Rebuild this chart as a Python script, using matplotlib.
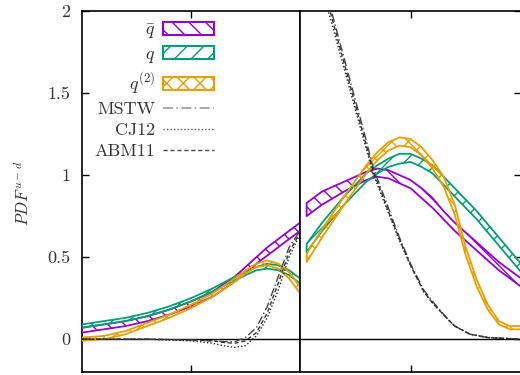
import numpy as np
import matplotlib
matplotlib.use('Agg')
import matplotlib.pyplot as plt
from matplotlib.patches import Patch
from matplotlib.lines import Line2D

plt.rcParams['mathtext.fontset'] = 'cm'
plt.rcParams['font.family'] = ['cmr10', 'DejaVu Serif']
plt.rcParams['axes.formatter.use_mathtext'] = True
plt.rcParams['hatch.linewidth'] = 1.0

# colours (gnuplot style)
c_qbar = '#9400D3'
c_q = '#009E73'
c_q2 = '#E69F00'

# ---- left panel data ----
xl = [0.0, 0.1, 0.2, 0.3, 0.4, 0.5, 0.6, 0.7, 0.75, 0.8, 0.85, 0.9, 0.95, 1.0]
qbar_l_lo = [0.04, 0.06, 0.08, 0.11, 0.15, 0.20, 0.26, 0.35, 0.40, 0.46, 0.51, 0.56, 0.61, 0.66]
qbar_l_hi = [0.07, 0.09, 0.11, 0.14, 0.18, 0.23, 0.29, 0.38, 0.44, 0.50, 0.56, 0.61, 0.66, 0.71]
q_l_lo = [0.07, 0.09, 0.11, 0.14, 0.18, 0.23, 0.29, 0.36, 0.39, 0.42, 0.43, 0.42, 0.39, 0.34]
q_l_hi = [0.09, 0.11, 0.13, 0.16, 0.20, 0.25, 0.31, 0.38, 0.41, 0.44, 0.46, 0.45, 0.42, 0.37]
q2_l_lo = [-0.01, 0.00, 0.03, 0.08, 0.13, 0.19, 0.26, 0.35, 0.40, 0.44, 0.45, 0.43, 0.37, 0.28]
q2_l_hi = [0.01, 0.02, 0.05, 0.10, 0.15, 0.21, 0.28, 0.37, 0.42, 0.46, 0.48, 0.46, 0.41, 0.32]

xl_b = [0.0, 0.3, 0.5, 0.6, 0.65, 0.7, 0.75, 0.8, 0.85, 0.9, 0.95, 1.0]
mstw_l = [0.0, 0.0, -0.005, -0.01, -0.015, -0.015, 0.01, 0.07, 0.20, 0.38, 0.56, 0.66]
cj12_l = [0.0, 0.0, -0.01, -0.025, -0.04, -0.05, -0.04, 0.02, 0.13, 0.30, 0.50, 0.64]
abm11_l = [0.0, 0.0, -0.005, -0.01, -0.02, -0.025, -0.01, 0.04, 0.16, 0.34, 0.53, 0.65]

# ---- right panel data ----
xr = [0.03, 0.1, 0.2, 0.3, 0.35, 0.4, 0.45, 0.5, 0.55, 0.6, 0.65, 0.7, 0.75, 0.8, 0.85, 0.9, 0.95, 1.0]
qbar_r_lo = [0.75, 0.82, 0.90, 0.97, 0.99, 0.98, 0.95, 0.92, 0.86, 0.80, 0.73, 0.66, 0.60, 0.54, 0.48, 0.42, 0.37, 0.32]
qbar_r_hi = [0.83, 0.90, 0.96, 1.02, 1.04, 1.03, 1.00, 0.97, 0.92, 0.86, 0.78, 0.71, 0.65, 0.59, 0.53, 0.47, 0.42, 0.37]
q_r_lo = [0.53, 0.66, 0.82, 0.96, 1.01, 1.05, 1.07, 1.08, 1.05, 1.01, 0.94, 0.87, 0.80, 0.73, 0.65, 0.57, 0.49, 0.41]
q_r_hi = [0.58, 0.71, 0.87, 1.01, 1.06, 1.10, 1.13, 1.13, 1.10, 1.06, 0.99, 0.92, 0.85, 0.78, 0.70, 0.62, 0.54, 0.46]
q2_r_lo = [0.47, 0.62, 0.82, 1.01, 1.09, 1.15, 1.18, 1.17, 1.12, 1.04, 0.93, 0.76, 0.51, 0.32, 0.18, 0.09, 0.06, 0.06]
q2_r_hi = [0.52, 0.67, 0.87, 1.06, 1.14, 1.20, 1.23, 1.22, 1.17, 1.09, 0.99, 0.82, 0.56, 0.36, 0.21, 0.11, 0.08, 0.08]

xr_b = [0.0, 0.1, 0.136, 0.2, 0.25, 0.3, 0.33, 0.4, 0.45, 0.5, 0.56, 0.6, 0.67, 0.7, 0.77, 0.85, 1.0]
mstw_r = [2.75, 2.22, 2.03, 1.71, 1.46, 1.21, 1.05, 0.80, 0.62, 0.46, 0.30, 0.23, 0.12, 0.08, 0.03, 0.01, 0.0]
cj12_r = [2.65, 2.14, 1.96, 1.65, 1.40, 1.16, 1.01, 0.77, 0.60, 0.45, 0.29, 0.22, 0.12, 0.08, 0.03, 0.01, 0.0]
abm11_r = [2.70, 2.18, 2.00, 1.68, 1.43, 1.18, 1.03, 0.78, 0.61, 0.45, 0.29, 0.22, 0.12, 0.08, 0.03, 0.01, 0.0]

W, H = 520, 375
fig = plt.figure(figsize=(W / 100, H / 100), dpi=100)
bottom = (H - 372) / H
height = (372 - 11) / H
axl = fig.add_axes([82 / W, bottom, 218 / W, height])
axr = fig.add_axes([300 / W, bottom, 221 / W, height], sharey=axl)

h_qbar, h_q, h_q2 = '\\\\', '//', 'xx'
bands_l = [(qbar_l_lo, qbar_l_hi, c_qbar, h_qbar), (q_l_lo, q_l_hi, c_q, h_q), (q2_l_lo, q2_l_hi, c_q2, h_q2)]
bands_r = [(qbar_r_lo, qbar_r_hi, c_qbar, h_qbar), (q_r_lo, q_r_hi, c_q, h_q), (q2_r_lo, q2_r_hi, c_q2, h_q2)]

for ax, xx, bands in [(axl, xl, bands_l), (axr, xr, bands_r)]:
    for lo, hi, col, hat in bands:
        ax.fill_between(xx, lo, hi, facecolor='none', edgecolor=col, hatch=hat, linewidth=1.3, zorder=3)

ls_mstw = (0, (6, 2, 1, 2))
ls_cj12 = (0, (1, 1.5))
ls_abm11 = (0, (3, 2))
for ax, xx, m, c, a in [(axl, xl_b, mstw_l, cj12_l, abm11_l), (axr, xr_b, mstw_r, cj12_r, abm11_r)]:
    ax.plot(xx, m, color='#444444', lw=1.0, ls=ls_mstw, zorder=4)
    ax.plot(xx, c, color='#222222', lw=1.0, ls=ls_cj12, zorder=4)
    ax.plot(xx, a, color='#333333', lw=1.0, ls=ls_abm11, zorder=4)
    ax.axhline(0, color='black', lw=1.0, zorder=2)
    ax.set_xlim(0, 1)
    ax.set_xticks([0.5])
    ax.tick_params(direction='in', length=5, width=1.0, top=True, labelbottom=False)
    for s in ax.spines.values():
        s.set_linewidth(1.2)

axl.set_ylim(-0.2, 2)
axl.set_yticks([0, 0.5, 1, 1.5, 2])
axl.set_yticklabels(['0', '0.5', '1', '1.5', '2'])
axl.tick_params(axis='y', labelsize=13, labelcolor='#333333', pad=8.5)
axr.tick_params(axis='y', left=False, right=True, labelleft=False)
axl.tick_params(axis='y', right=False)

fig.text(22 / W, 1 - 193 / H, r'$PDF^{u-d}$', rotation=90, ha='center', va='center',
         fontsize=12, color='#333333')

handles = [
    Patch(facecolor='white', edgecolor=c_qbar, hatch=h_qbar, lw=1.5),
    Patch(facecolor='white', edgecolor=c_q, hatch=h_q, lw=1.5),
    Patch(facecolor='white', edgecolor=c_q2, hatch=h_q2, lw=1.5),
    Line2D([], [], color='#999999', lw=1.2, ls=ls_mstw),
    Line2D([], [], color='#555555', lw=1.0, ls=ls_cj12),
    Line2D([], [], color='#444444', lw=1.0, ls=ls_abm11),
]
labels = [r'$\bar{q}$', r'$q$', r'$q^{(2)}$', 'MSTW', 'CJ12', 'ABM11']
leg = axl.legend(handles, labels, loc='upper right', bbox_to_anchor=(214 / W, 1 - 22 / H),
                 bbox_transform=fig.transFigure, frameon=False, markerfirst=False,
                 handlelength=2.8, handleheight=0.7, labelspacing=0.3, borderpad=0,
                 borderaxespad=0, handletextpad=0.45, fontsize=13)
for t in leg.get_texts():
    t.set_color('#333333')

fig.savefig('out.png', dpi=100)
